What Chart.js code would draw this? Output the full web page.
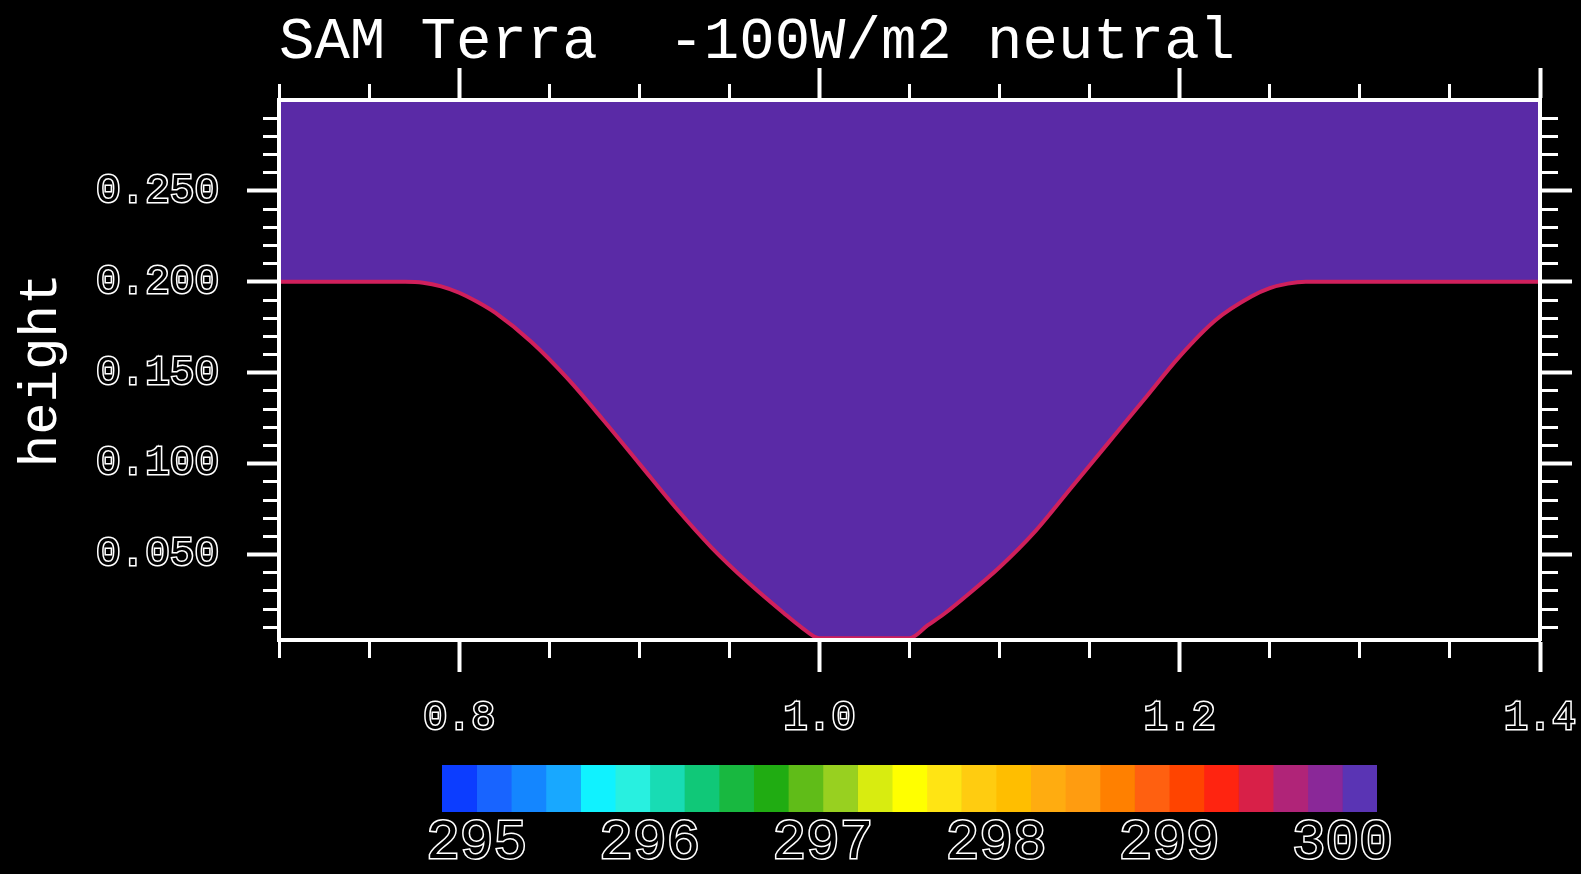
<!DOCTYPE html>
<html>
<head>
<meta charset="utf-8">
<title>SAM Terra -100W/m2 neutral</title>
<script src="https://cdn.jsdelivr.net/npm/chart.js@4.4.1/dist/chart.umd.min.js"></script>
<style>
  html, body { margin: 0; padding: 0; background: #000; overflow: hidden; }
  #main { position: absolute; left: 0; top: 0; }
  #bar { position: absolute; left: 0; top: 745px; }
</style>
</head>
<body>
<canvas id="main" width="1581" height="745"></canvas>
<canvas id="bar" width="1581" height="129"></canvas>
<script>
const titleText = 'SAM Terra  -100W/m2 neutral';
const yTitle = 'height';

// lower edge of the filled region (valley floor)
const xValues = [0.70, 0.77, 0.78, 0.79, 0.80, 0.81, 0.82, 0.84, 0.86, 0.88, 0.90, 0.92, 0.94, 0.96, 0.98, 0.99,
  1.00, 1.05, 1.06, 1.07, 1.08, 1.10, 1.12, 1.14, 1.16, 1.18, 1.20, 1.22, 1.24, 1.25, 1.26, 1.27, 1.40];
const heightValues = [0.200, 0.200, 0.1995, 0.1975, 0.194, 0.189, 0.183, 0.167, 0.147, 0.124, 0.100, 0.076, 0.054, 0.035, 0.018, 0.010,
  0.004, 0.004, 0.011, 0.018, 0.026, 0.043, 0.063, 0.087, 0.111, 0.135, 0.159, 0.179, 0.192, 0.1965, 0.199, 0.200, 0.200];

// small stray contour piece near the valley floor
const fragmentX = [1.017, 1.032];
const fragmentY = [0.0185, 0.0185];

const xTickValues = [0.70, 0.75, 0.80, 0.85, 0.90, 0.95, 1.00, 1.05, 1.10, 1.15, 1.20, 1.25, 1.30, 1.35, 1.40];
const xLabelValues = [0.8, 1.0, 1.2, 1.4];
const yTickValues = [0.01, 0.02, 0.03, 0.04, 0.05, 0.06, 0.07, 0.08, 0.09, 0.10, 0.11, 0.12, 0.13, 0.14, 0.15,
  0.16, 0.17, 0.18, 0.19, 0.20, 0.21, 0.22, 0.23, 0.24, 0.25, 0.26, 0.27, 0.28, 0.29];
const yLabelValues = [0.05, 0.10, 0.15, 0.20, 0.25];

// colour bar
const levelBounds = [294.8, 295.0, 295.2, 295.4, 295.6, 295.8, 296.0, 296.2, 296.4, 296.6, 296.8, 297.0, 297.2, 297.4,
  297.6, 297.8, 298.0, 298.2, 298.4, 298.6, 298.8, 299.0, 299.2, 299.4, 299.6, 299.8, 300.0, 300.2];
const levelColors = ['#0c3dff', '#1864ff', '#1486ff', '#18a8ff', '#10f2ff', '#28f0e0', '#18dcb4', '#10c878', '#18b840',
  '#20ac12', '#60bc18', '#98d020', '#d8ec10', '#ffff00', '#ffe414', '#ffcc10', '#ffbe00', '#ffac10', '#ff9c10',
  '#ff8000', '#ff6010', '#ff4400', '#ff2410', '#d82048', '#b02478', '#8a2898', '#5a34b4'];
const levelLabels = [295, 296, 297, 298, 299, 300];

const fontFamily = "'Liberation Mono', monospace";
const fillColor = '#5a2aa6';
const edgeColor = '#d0205c';

const hasValue = (list, v) => list.some(item => Math.abs(item - v) < 1e-9);

function axisGrid(side, majors) {
  const major = ctx => ctx.tick && hasValue(majors, ctx.tick.value);
  const fromOuter = side === 'top' || side === 'left';
  return {
    drawOnChartArea: false,
    drawTicks: true,
    tickLength: 32,
    tickColor: '#fff',
    tickWidth: ctx => major(ctx) ? 4 : 3,
    tickBorderDash: ctx => major(ctx) ? [] : [16, 100],
    tickBorderDashOffset: ctx => (!major(ctx) && fromOuter) ? 100 : 0
  };
}

const axisBorder = { display: true, color: '#fff', width: 4, z: 1 };

const outlineTicks = size => ({
  color: '#000',
  textStrokeColor: '#fff',
  textStrokeWidth: 3,
  font: { family: fontFamily, size, lineHeight: 1 },
  autoSkip: false,
  maxRotation: 0
});

// keep the plot box where the picture has it, labels may overhang
const noSidePadding = s => { s.paddingLeft = 0; s.paddingRight = 0; };

new Chart(document.getElementById('main'), {
  type: 'line',
  data: {
    datasets: [{
      data: xValues.map((x, i) => ({ x, y: heightValues[i] })),
      borderColor: edgeColor,
      borderWidth: 4,
      backgroundColor: fillColor,
      fill: 'end',
      pointRadius: 0,
      cubicInterpolationMode: 'monotone'
    }, {
      data: fragmentX.map((x, i) => ({ x, y: fragmentY[i] })),
      borderColor: edgeColor,
      borderWidth: 2,
      fill: false,
      pointRadius: 0
    }]
  },
  options: {
    responsive: false,
    animation: false,
    layout: { padding: 0 },
    plugins: {
      legend: { display: false },
      tooltip: { enabled: false },
      title: {
        display: true,
        text: titleText,
        align: 'start',
        fullSize: false,
        color: '#fff',
        font: { family: fontFamily, size: 59, lineHeight: 1, weight: 'normal' },
        padding: { top: 13, bottom: 0 }
      }
    },
    scales: {
      x: {
        type: 'linear', position: 'bottom', min: 0.7, max: 1.4,
        afterBuildTicks: s => { s.ticks = xTickValues.map(value => ({ value })); },
        afterFit: s => { s.height = 105; noSidePadding(s); },
        ticks: { ...outlineTicks(40), padding: 26, callback: v => hasValue(xLabelValues, v) ? v.toFixed(1) : '' },
        grid: axisGrid('bottom', xLabelValues),
        border: axisBorder
      },
      x2: {
        type: 'linear', axis: 'x', position: 'top', min: 0.7, max: 1.4,
        afterBuildTicks: s => { s.ticks = xTickValues.map(value => ({ value })); },
        afterFit: s => { s.height = 28; noSidePadding(s); },
        ticks: { display: false },
        grid: axisGrid('top', xLabelValues),
        border: axisBorder
      },
      y: {
        type: 'linear', position: 'left', min: 0.003, max: 0.3,
        afterBuildTicks: s => { s.ticks = yTickValues.map(value => ({ value })); },
        afterFit: s => { s.width = 279; },
        ticks: { ...outlineTicks(41), padding: 28, callback: v => hasValue(yLabelValues, v) ? v.toFixed(3) : '' },
        title: {
          display: true,
          text: yTitle,
          color: '#fff',
          font: { family: fontFamily, size: 54, lineHeight: 1 },
          padding: { top: 15, bottom: 0 }
        },
        grid: axisGrid('left', yLabelValues),
        border: axisBorder
      },
      y2: {
        type: 'linear', axis: 'y', position: 'right', min: 0.003, max: 0.3,
        afterBuildTicks: s => { s.ticks = yTickValues.map(value => ({ value })); },
        afterFit: s => { s.width = 41; },
        ticks: { display: false },
        grid: axisGrid('right', yLabelValues),
        border: axisBorder
      }
    }
  }
});

new Chart(document.getElementById('bar'), {
  type: 'bar',
  data: {
    labels: ['level'],
    datasets: levelColors.map((color, i) => ({
      data: [[levelBounds[i], levelBounds[i + 1]]],
      backgroundColor: color,
      borderWidth: 0,
      grouped: false,
      barPercentage: 1,
      categoryPercentage: 1
    }))
  },
  options: {
    indexAxis: 'y',
    responsive: false,
    animation: false,
    layout: { padding: { left: 442, right: 204, top: 20, bottom: 0 } },
    plugins: { legend: { display: false }, tooltip: { enabled: false } },
    scales: {
      x: {
        type: 'linear', min: 294.8, max: 300.2,
        afterBuildTicks: s => { s.ticks = levelLabels.map(value => ({ value })); },
        afterFit: s => { s.height = 62; },
        grid: { display: false, drawTicks: false },
        border: { display: false },
        ticks: { ...outlineTicks(56), padding: 3, callback: v => String(v) }
      },
      y: { display: false }
    }
  }
});
</script>
</body>
</html>
